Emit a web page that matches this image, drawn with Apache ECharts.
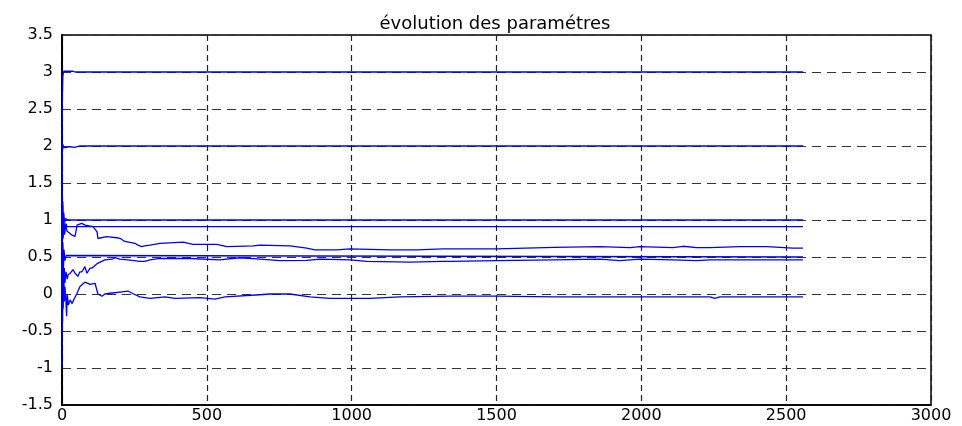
<!DOCTYPE html>
<html>
<head>
<meta charset="utf-8">
<script src="https://cdn.jsdelivr.net/npm/echarts@6/dist/echarts.min.js"></script>
<style>
html,body{margin:0;padding:0;background:#fff;}
#chart{width:962px;height:426px;}
</style>
</head>
<body>
<div id="chart"></div>
<script>
// ---- data: [sample index, parameter estimate] ----
const titleText = 'évolution des paramétres';
const xTicks = [0, 500, 1000, 1500, 2000, 2500, 3000];
const yTicks = [-1.5, -1, -0.5, 0, 0.5, 1, 1.5, 2, 2.5, 3, 3.5];

const paramA = [[0,0],[1,2.6],[3,2.95],[6,3.01],[20,3.01],[38,3.01],[45,3.0],[2558,3.0]];
const paramB = [[0,0],[1,1.9],[3,2.02],[6,1.98],[15,1.98],[25,1.99],[45,1.98],[60,2.0],[2558,2.0]];
const paramC = [[0,0],[1,1.3],[2,0.85],[3,1.25],[4,0.9],[6,1.1],[9,0.97],[13,1.02],[20,1.0],[2558,1.0]];
const paramD = [[0,0],[1,0.5],[2,1.2],[3,0.8],[5,1.0],[8,0.85],[12,0.95],[18,0.91],[2558,0.91]];
const paramE = [[0,0],[1,0.9],[2,0.2],[3,0.7],[5,0.35],[7,0.6],[10,0.45],[14,0.52],[20,0.5],[2558,0.5]];
const paramF = [[0,0],[2,1.1],[4,0.75],[6,1.0],[9,0.8],[13,0.95],[17,0.85],[21,0.865],[33,0.8],[45,0.78],[52,0.93],[68,0.955],[80,0.93],[107,0.91],[121,0.84],[124,0.75],[154,0.775],[189,0.76],[200,0.753],[217,0.71],[252,0.685],[262,0.66],[275,0.64],[286,0.65],[304,0.66],[338,0.685],[418,0.70],[452,0.67],[534,0.67],[569,0.64],[660,0.65],[684,0.66],[787,0.65],[845,0.62],[873,0.595],[949,0.595],[994,0.61],[1132,0.595],[1225,0.595],[1315,0.61],[1339,0.61],[1500,0.61],[1700,0.63],[1857,0.64],[1961,0.626],[1995,0.64],[2109,0.626],[2144,0.645],[2191,0.626],[2237,0.626],[2340,0.64],[2433,0.64],[2523,0.62],[2558,0.62]];
const paramG = [[0,0],[1,-0.2],[2,0.6],[3,0.0],[4,0.45],[6,0.1],[8,0.35],[10,0.15],[14,0.3],[18,0.2],[21,0.26],[28,0.28],[38,0.33],[45,0.28],[55,0.24],[62,0.30],[69,0.30],[79,0.37],[86,0.28],[97,0.35],[104,0.35],[121,0.41],[148,0.46],[173,0.47],[183,0.49],[200,0.47],[228,0.46],[269,0.44],[286,0.44],[304,0.46],[338,0.48],[373,0.48],[442,0.48],[545,0.46],[614,0.49],[684,0.47],[752,0.45],[845,0.455],[891,0.47],[994,0.46],[1053,0.44],[1201,0.43],[1315,0.44],[1339,0.44],[1500,0.45],[1700,0.46],[1857,0.47],[1926,0.45],[1995,0.47],[2109,0.46],[2191,0.45],[2237,0.46],[2558,0.46]];
const paramH = [[0,-1],[1,0.3],[2,-0.4],[3,0.2],[4,-0.2],[6,0.15],[8,-0.1],[10,0.1],[13,-0.05],[16,-0.3],[18,0.0],[22,-0.15],[28,-0.08],[35,-0.13],[38,-0.1],[52,0.01],[62,0.10],[79,0.16],[97,0.13],[114,0.145],[124,0.0],[138,-0.03],[148,0.0],[166,0.01],[207,0.03],[228,0.04],[242,0.01],[269,-0.04],[304,-0.06],[356,-0.04],[390,-0.06],[476,-0.05],[528,-0.07],[563,-0.04],[683,-0.01],[718,0.0],[787,0.0],[856,-0.04],[925,-0.06],[1063,-0.06],[1166,-0.04],[1339,-0.03],[1500,-0.03],[1700,-0.04],[1857,-0.04],[2237,-0.04],[2254,-0.06],[2271,-0.04],[2558,-0.04]];

const allParams = [paramA, paramB, paramC, paramD, paramE, paramF, paramG, paramH];

const chart = echarts.init(document.getElementById('chart'), null, {renderer: 'canvas'});
const font = 'DejaVu Sans';
chart.setOption({
  animation: false,
  backgroundColor: '#ffffff',
  title: {
    text: titleText,
    left: 490,
    textAlign: 'center',
    top: 10,
    textStyle: {fontFamily: font, fontSize: 18, fontWeight: 'normal', color: '#000'}
  },
  grid: {
    left: 62, right: 31, top: 35, bottom: 21,
    show: true, borderColor: '#000', borderWidth: 1.5, backgroundColor: 'transparent'
  },
  xAxis: {
    type: 'value',
    min: xTicks[0], max: xTicks[xTicks.length - 1], interval: xTicks[1] - xTicks[0],
    axisLine: {show: true, onZero: false, lineStyle: {color: '#000', width: 1.5}},
    axisTick: {show: false},
    axisLabel: {margin: 3, fontFamily: font, fontSize: 16, color: '#000', formatter: v => String(v)},
    splitLine: {show: true, lineStyle: {color: '#222', width: 1.2, type: [6, 4]}}
  },
  yAxis: {
    type: 'value',
    min: yTicks[0], max: yTicks[yTicks.length - 1], interval: yTicks[1] - yTicks[0],
    axisLine: {show: true, onZero: false, lineStyle: {color: '#000', width: 2}},
    axisTick: {show: false},
    axisLabel: {margin: 9, fontFamily: font, fontSize: 16, color: '#000', formatter: v => String(v)},
    splitLine: {show: true, lineStyle: {color: '#333', width: 1, type: [9, 6]}}
  },
  series: allParams.map(d => ({
    type: 'line',
    data: d,
    showSymbol: false,
    symbol: 'none',
    lineStyle: {color: '#0000ff', width: 1.3},
    itemStyle: {color: '#0000ff'},
    silent: true,
    z: 3
  }))
});
</script>
</body>
</html>
